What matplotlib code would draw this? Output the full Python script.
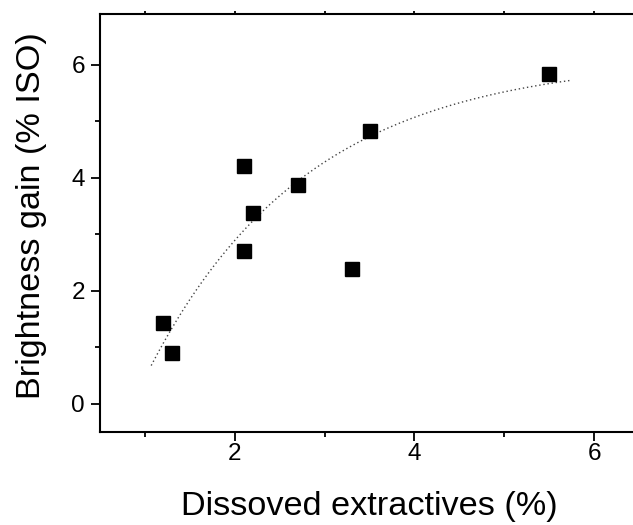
import numpy as np
import matplotlib
matplotlib.use("Agg")
import matplotlib.pyplot as plt

plt.rcParams['font.family'] = ['Liberation Sans', 'DejaVu Sans']

# data
extractives = [1.2, 1.3, 2.1, 2.1, 2.2, 2.7, 3.3, 3.5, 5.5]
brightness_gain = [1.43, 0.90, 4.21, 2.71, 3.37, 3.87, 2.39, 4.82, 5.83]

# exponential fit y = A - B*exp(-x/t), parameters estimated from the drawn curve
fit_A = 6.12
fit_B = 9.93
fit_t = 1.78
fit_xmin = 1.07
fit_xmax = 5.74

fig = plt.figure(figsize=(6.33, 5.25), dpi=100)
# axes box: left spine at x=100px, right side runs off the picture
ax = fig.add_axes([100/633, 1 - 432/525, 539/633, (432-14)/525])

xfit = np.linspace(fit_xmin, fit_xmax, 200)
yfit = fit_A - fit_B*np.exp(-xfit/fit_t)
ax.plot(xfit, yfit, color='#444444', linestyle=(0, (1, 2)), linewidth=1.0)

ax.plot(extractives, brightness_gain, linestyle='none', marker='s',
        markersize=10, color='black')

ax.set_xlim(0.5, 6.5)
ax.set_ylim(-0.5, 6.9)
ax.set_xticks([2, 4, 6])
ax.set_xticks([1, 3, 5], minor=True)
ax.set_yticks([0, 2, 4, 6])
ax.set_yticks([1, 3, 5], minor=True)

ax.tick_params(which='both', direction='out', width=1.3, labelsize=17.5,
               top=True, right=False)
ax.tick_params(which='major', length=6.5, pad=4.3)
ax.tick_params(which='minor', length=3.6)
ax.tick_params(axis='x', which='major', pad=5.8)
# ticks on the top spine are barely visible in the original
ax.tick_params(axis='x', which='both', top=True, length=2)
for t in ax.xaxis.get_major_ticks():
    t.tick1line.set_markersize(6.5)
for t in ax.xaxis.get_minor_ticks():
    t.tick1line.set_markersize(3.6)

for s in ax.spines.values():
    s.set_linewidth(1.5)
ax.spines['right'].set_visible(False)

ax.set_xlabel('Dissoved extractives (%)', fontsize=24.7, labelpad=19)
ax.set_ylabel('Brightness gain (% ISO)', fontsize=24.7)
ax.yaxis.set_label_coords(-0.098, 0.517)

fig.savefig('out.png', dpi=100)
